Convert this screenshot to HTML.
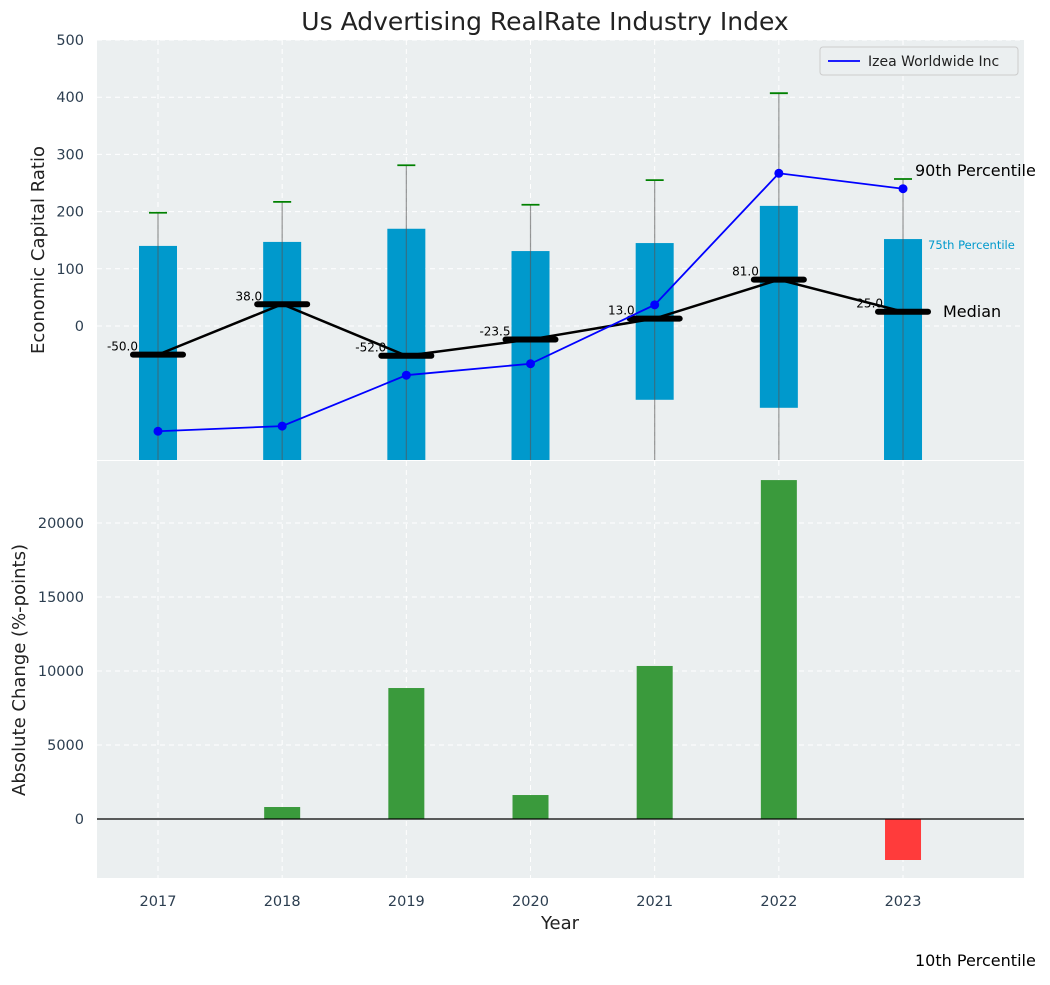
<!DOCTYPE html>
<html><head><meta charset="utf-8"><style>
body{margin:0;background:#fff;font-family:"Liberation Sans","DejaVu Sans",sans-serif;}
svg text{font-family:"DejaVu Sans","Liberation Sans",sans-serif;}
</style></head><body>
<svg id="c" width="1050" height="980" xmlns="http://www.w3.org/2000/svg"></svg>
<script>
const years=[2017,2018,2019,2020,2021,2022,2023];
const q75=[140,147,170,131,145,210,152];
const q25=[-260,-260,-260,-260,-129,-143,-260];
const p90=[198,217,281,212,255,407,257];
const p10=[-400,-400,-400,-400,-400,-400,-400];
const medians=[-50,38,-52,-23.5,13,81,25];
const izea=[-184,-175,-86,-66,37,267,240];
const changes=[0,810,8850,1620,10340,22900,-2770];
const topTicks=[0,100,200,300,400,500];
const botTicks=[0,5000,10000,15000,20000];

const NS="http://www.w3.org/2000/svg";
const svgEl=document.getElementById('c');
function mk(t,a,p){const e=document.createElementNS(NS,t);for(const k in a)e.setAttribute(k,a[k]);(p||svgEl).appendChild(e);return e;}
const xs=v=>158+(v-2017)*124.17;
const yT=v=>326-v*0.572;
const yB=v=>819-v*0.0148;
const L=97,R=1024;

let t=mk('text',{x:545,y:30,'text-anchor':'middle','font-size':25,fill:'#222'});t.textContent='Us Advertising RealRate Industry Index';



const topG=mk('g',{});


mk('defs',{}).innerHTML='<clipPath id="ct"><rect x="97" y="40" width="927" height="420"/></clipPath><clipPath id="cb"><rect x="97" y="461" width="927" height="417"/></clipPath>';
mk('rect',{x:L,y:40,width:R-L,height:420,fill:'#ebeff0'},topG);
const gt=mk('g',{'clip-path':'url(#ct)'},topG);
topTicks.forEach(v=>{mk('line',{x1:L,x2:R,y1:yT(v),y2:yT(v),stroke:'#fff','stroke-dasharray':'5,4'},gt);
 const tx=mk('text',{x:84,y:yT(v)+5,'text-anchor':'end','font-size':14.5,fill:'#2c3e50'});tx.textContent=v;
 
 });
years.forEach(v=>mk('line',{x1:xs(v),x2:xs(v),y1:40,y2:460,stroke:'#fff','stroke-dasharray':'5,4'},gt));
years.forEach((yr,i)=>{
 const b=mk('rect',{x:xs(yr)-19,y:yT(q75[i]),width:38,height:yT(q25[i])-yT(q75[i]),fill:'#0099cc'},gt);
 
 
 mk('line',{x1:xs(yr),x2:xs(yr),y1:yT(p90[i]),y2:yT(p10[i]),stroke:'#555','stroke-opacity':0.6,'stroke-width':1.2},gt);
 mk('line',{x1:xs(yr)-9,x2:xs(yr)+9,y1:yT(p90[i]),y2:yT(p90[i]),stroke:'green','stroke-width':1.8},gt);
});
let pts=years.map((yr,i)=>xs(yr)+','+yT(medians[i])).join(' ');
mk('polyline',{points:pts,fill:'none',stroke:'#000','stroke-width':2.5},gt);
years.forEach((yr,i)=>{
 const m=mk('line',{x1:xs(yr)-25,x2:xs(yr)+25,y1:yT(medians[i]),y2:yT(medians[i]),stroke:'#000','stroke-width':6,'stroke-linecap':'round'},gt);
 
 
 const tx=mk('text',{x:xs(yr)-20,y:yT(medians[i])-4,'text-anchor':'end','font-size':12,fill:'#000'},gt);tx.textContent=medians[i].toFixed(1);
});
pts=years.map((yr,i)=>xs(yr)+','+yT(izea[i])).join(' ');
const il=mk('polyline',{points:pts,fill:'none',stroke:'#0000ff','stroke-width':1.8},gt);


years.forEach((yr,i)=>mk('circle',{cx:xs(yr),cy:yT(izea[i]),r:4.5,fill:'#0000ff'},gt));
t=mk('text',{x:915,y:176,'font-size':16,fill:'#000'});t.textContent='90th Percentile';
t=mk('text',{x:928,y:249,'font-size':11.5,fill:'#0099cc'});t.textContent='75th Percentile';
t=mk('text',{x:943,y:317,'font-size':16,fill:'#000'});t.textContent='Median';
t=mk('text',{x:915,y:966,'font-size':16,fill:'#000'});t.textContent='10th Percentile';
t=mk('text',{x:0,y:0,'font-size':18,fill:'#222','text-anchor':'middle',transform:'translate(44,250) rotate(-90)'});t.textContent='Economic Capital Ratio';
const lg=mk('g',{});


mk('rect',{x:820,y:47,width:198,height:28,rx:3,fill:'#ebeff0',stroke:'#ccc'},lg);
mk('line',{x1:828,x2:860,y1:61,y2:61,stroke:'#0000ff','stroke-width':1.8},lg);
t=mk('text',{x:868,y:66,'font-size':14,fill:'#222'},lg);t.textContent='Izea Worldwide Inc';

const bp=mk('g',{});


mk('rect',{x:L,y:461,width:R-L,height:417,fill:'#ebeff0'},bp);
const gb=mk('g',{'clip-path':'url(#cb)'},bp);
botTicks.forEach(v=>{mk('line',{x1:L,x2:R,y1:yB(v),y2:yB(v),stroke:'#fff','stroke-dasharray':'5,4'},gb);
 const tx=mk('text',{x:84,y:yB(v)+5,'text-anchor':'end','font-size':14.5,fill:'#2c3e50'});tx.textContent=v;
 
 });
years.forEach(v=>{mk('line',{x1:xs(v),x2:xs(v),y1:461,y2:878,stroke:'#fff','stroke-dasharray':'5,4'},gb);
 const tx=mk('text',{x:xs(v),y:906,'text-anchor':'middle','font-size':14.5,fill:'#2c3e50'});tx.textContent=v;
 
 });
years.forEach((yr,i)=>{const v=changes[i];
 const b=mk('rect',{x:xs(yr)-18,y:Math.min(yB(v),yB(0)),width:36,height:Math.abs(yB(v)-yB(0)),fill:v>=0?'#3a9a3c':'#ff3b3b'},gb);
 
 });
mk('line',{x1:L,x2:R,y1:yB(0),y2:yB(0),stroke:'#000','stroke-width':1.2},gb);
t=mk('text',{x:0,y:0,'font-size':18,fill:'#222','text-anchor':'middle',transform:'translate(25,670) rotate(-90)'});t.textContent='Absolute Change (%-points)';
t=mk('text',{x:560,y:929,'font-size':18,fill:'#222','text-anchor':'middle'});t.textContent='Year';
</script>
</body></html>
